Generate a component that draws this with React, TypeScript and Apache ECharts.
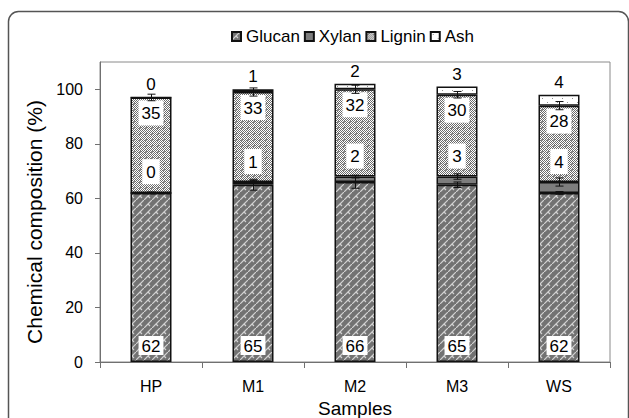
import React, { useEffect, useRef } from "react";
import * as echarts from "echarts";

const categories = ["HP", "M1", "M2", "M3", "WS"];
const glucan = [62, 65, 66, 65, 62];
const xylan = [0, 1, 2, 3, 4];
const lignin = [35, 33, 32, 30, 28];
const ash = [0, 1, 2, 3, 4];
const glucanErr = [0.3, 2, 2.3, 1, 0.5];
const xylanErr = [0, 0.5, 0.5, 1, 1.5];
const ligninErr = [1.2, 1.5, 1.5, 1.2, 1.5];
const yTicks = [0, 20, 40, 60, 80, 100];

const FONT = "Liberation Sans, Arial, sans-serif";

function makeTile(w: number, h: number, draw: (ctx: CanvasRenderingContext2D) => void) {
  const c = document.createElement("canvas");
  c.width = w;
  c.height = h;
  const ctx = c.getContext("2d")!;
  draw(ctx);
  return { type: "pattern", image: c.toDataURL(), imageWidth: w, imageHeight: h, repeat: "repeat" } as any;
}

function patterns() {
  const glucanP = makeTile(8, 8, (ctx) => {
    ctx.fillStyle = "#727272";
    ctx.fillRect(0, 0, 8, 8);
    ctx.strokeStyle = "#d2d2d2";
    ctx.lineWidth = 1.2;
    ctx.beginPath();
    ctx.moveTo(0, 8);
    ctx.lineTo(4, 4);
    ctx.moveTo(4, 4);
    ctx.lineTo(6, 6);
    ctx.moveTo(4, 4);
    ctx.lineTo(8, 0);
    ctx.stroke();
  });
  const ligninP = makeTile(6, 6, (ctx) => {
    ctx.fillStyle = "#ffffff";
    ctx.fillRect(0, 0, 6, 6);
    ctx.fillStyle = "#6a6a6a";
    for (let y = 0; y < 6; y++) {
      for (let x = 0; x < 6; x++) {
        if ((x + y) % 2 === 0) ctx.fillRect(x, y, 1, 1);
      }
    }
    ctx.fillStyle = "#8a8a8a";
    ctx.fillRect(1, 1, 2, 2);
  });
  const ashP = makeTile(10, 8, (ctx) => {
    ctx.fillStyle = "#ffffff";
    ctx.fillRect(0, 0, 10, 8);
    ctx.fillStyle = "#909090";
    ctx.fillRect(2, 2, 1, 1);
    ctx.fillRect(7, 6, 1, 1);
  });
  return { glucanP, ligninP, ashP };
}

export default function App() {
  const ref = useRef<HTMLDivElement>(null);
  useEffect(() => {
    const chart = echarts.init(ref.current!, undefined, { renderer: "svg" });
    const { glucanP, ligninP, ashP } = patterns();

    const errData: any[] = [];
    categories.forEach((_, i) => {
      const g = glucan[i];
      const gx = g + xylan[i];
      const gxl = gx + lignin[i];
      errData.push([i, g, glucanErr[i]]);
      if (xylanErr[i] > 0) errData.push([i, gx, xylanErr[i]]);
      errData.push([i, gxl, ligninErr[i]]);
    });

    const boxLabel = {
      show: true,
      color: "#000",
      fontSize: 17,
      fontFamily: FONT,
      backgroundColor: "#fff",
      lineHeight: 18,
    };
    const barBase = {
      type: "bar",
      stack: "total",
      barWidth: 41,
    };

    chart.setOption({
      animation: false,
      backgroundColor: "#fff",
      textStyle: { fontFamily: FONT },
      graphic: [
        {
          type: "rect",
          shape: { x: 8.5, y: 11.5, width: 620, height: 430, r: 10 },
          style: { fill: "none", stroke: "#555", lineWidth: 1.5 },
          silent: true,
          z: -1,
        },
      ],
      legend: {
        top: 23,
        left: 226,
        data: ["Glucan", "Xylan", "Lignin", "Ash"],
        itemWidth: 9,
        itemHeight: 9,
        itemGap: 4,
        icon: "rect",
        textStyle: { fontSize: 17, color: "#000", fontFamily: FONT },
      },
      grid: {
        left: 100,
        right: 19,
        top: 62,
        bottom: 56,
        show: true,
        borderColor: "#8a8a8a",
        borderWidth: 1,
        containLabel: false,
        outerBoundsMode: "none",
      },
      xAxis: {
        type: "category",
        data: categories,
        name: "Samples",
        nameLocation: "middle",
        nameGap: 36,
        nameTextStyle: { fontSize: 19, lineHeight: 19, color: "#000", fontFamily: FONT },
        axisLine: { lineStyle: { color: "#707070", width: 1 } },
        axisTick: { show: true, length: 6, interval: 0, lineStyle: { color: "#707070" } },
        axisLabel: { fontSize: 16, color: "#000", margin: 16, fontFamily: FONT },
      },
      yAxis: {
        type: "value",
        min: 0,
        max: 110,
        interval: 20,
        name: "Chemical composition (%)",
        nameLocation: "middle",
        nameGap: 48,
        nameTextStyle: { fontSize: 21, color: "#000", fontFamily: FONT, padding: [0, 20, 0, 0] },
        axisLine: { show: true, lineStyle: { color: "#707070", width: 1 } },
        axisTick: { show: true, length: 5, lineStyle: { color: "#707070" }, customValues: yTicks },
        axisLabel: { fontSize: 16, color: "#000", margin: 17, fontFamily: FONT, customValues: yTicks },
        splitLine: { show: false },
      },
      series: [
        {
          ...barBase,
          name: "Glucan",
          data: glucan,
          itemStyle: { color: glucanP, borderColor: "#111", borderWidth: 1.5 },
          label: { ...boxLabel, position: "insideBottom", distance: 7, padding: [1, 3, 0, 3] },
        },
        {
          ...barBase,
          name: "Xylan",
          data: xylan,
          z: 3,
          itemStyle: { color: "#7d7d7d", borderColor: "#111", borderWidth: 1.5 },
          label: { ...boxLabel, position: "top", distance: 8, padding: [4, 4, 3, 4] },
        },
        {
          ...barBase,
          name: "Lignin",
          data: lignin,
          itemStyle: { color: ligninP, borderColor: "#111", borderWidth: 1.5 },
          label: { ...boxLabel, position: "insideTop", distance: 3, padding: [4, 3, 3, 3] },
        },
        {
          ...barBase,
          name: "Ash",
          data: ash,
          itemStyle: { color: ashP, borderColor: "#111", borderWidth: 1.5 },
          label: {
            show: true,
            position: "top",
            distance: 4,
            color: "#000",
            fontSize: 17,
            fontFamily: FONT,
          },
        },
        {
          type: "custom",
          z: 5,
          silent: true,
          data: errData,
          encode: { x: 0, y: 1 },
          renderItem: (params: any, api: any) => {
            const i = api.value(0);
            const top = api.value(1);
            const err = api.value(2);
            const hi = api.coord([i, top + err]);
            const lo = api.coord([i, top - err]);
            const x = Math.round(hi[0]) + 0.5;
            const w = 4;
            const style = { stroke: "#111", lineWidth: 1 };
            return {
              type: "group",
              children: [
                { type: "line", shape: { x1: x, y1: hi[1], x2: x, y2: lo[1] }, style },
                { type: "line", shape: { x1: x - w, y1: hi[1], x2: x + w, y2: hi[1] }, style },
                { type: "line", shape: { x1: x - w, y1: lo[1], x2: x + w, y2: lo[1] }, style },
              ],
            };
          },
        },
      ],
    });
    return () => chart.dispose();
  }, []);
  return (
    <div
      ref={ref}
      style={{ position: "fixed", left: 0, top: 0, width: 629, height: 418, background: "#fff" }}
    />
  );
}
